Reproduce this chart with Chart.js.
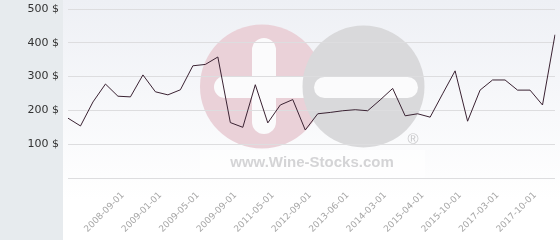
<!DOCTYPE html>
<html>
<head>
<meta charset="utf-8">
<script src="https://cdn.jsdelivr.net/npm/chart.js@4/dist/chart.umd.min.js"></script>
<style>
  html, body { margin: 0; padding: 0; background: #fff; }
  canvas { display: block; }
</style>
</head>
<body>
<canvas id="priceChart" width="560" height="240"></canvas>
<script>
  // dates on the category axis (only some are shown as tick labels)
  const dates = [
    "2008-05-01", "2008-06-01", "2008-07-01", "2008-08-01", "2008-09-01",
    "2008-10-01", "2008-12-01", "2009-01-01", "2009-02-01", "2009-04-01",
    "2009-05-01", "2009-06-01", "2009-07-01", "2009-09-01", "2010-01-01",
    "2010-09-01", "2011-05-01", "2011-09-01", "2012-03-01", "2012-09-01",
    "2012-12-01", "2013-03-01", "2013-06-01", "2013-09-01", "2013-12-01",
    "2014-03-01", "2014-07-01", "2014-11-01", "2015-04-01", "2015-06-01",
    "2015-08-01", "2015-10-01", "2016-04-01", "2016-09-01", "2017-03-01",
    "2017-05-01", "2017-08-01", "2017-10-01", "2017-12-01", "2018-02-01"
  ];

  // price in $
  const prices = [
    177, 154, 225, 278, 242, 240, 305, 255, 246, 261,
    332, 336, 358, 164, 150, 276, 163, 216, 232, 142,
    190, 194, 199, 202, 199, 231, 265, 184, 190, 180,
    249, 317, 168, 260, 290, 290, 260, 260, 216, 424
  ];

  const yMin = 0;
  const yMax = 500;
  const yStep = 100;

  const roundBar = (ctx, x1, y1, x2, y2) => {
    const r = Math.min(x2 - x1, y2 - y1) / 2;
    ctx.beginPath();
    ctx.roundRect(x1, y1, x2 - x1, y2 - y1, r);
    ctx.fill();
  };

  // background panels + watermark logo, drawn under the grid
  const backdrop = {
    id: 'backdrop',
    beforeDraw(chart) {
      const ctx = chart.ctx;
      const w = chart.width, h = chart.height;
      ctx.save();
      const grad = ctx.createLinearGradient(0, 0, 0, 200);
      grad.addColorStop(0, '#eef0f5');
      grad.addColorStop(1, '#ffffff');
      ctx.fillStyle = grad;
      ctx.fillRect(63, 0, w - 63, h);
      ctx.fillStyle = '#e7ebee';
      ctx.fillRect(0, 0, 63, h);

      // text box
      ctx.fillStyle = 'rgba(255,255,255,0.6)';
      ctx.fillRect(200, 150, 225, 28);

      // pink circle with plus
      ctx.fillStyle = '#ead1d8';
      ctx.beginPath();
      ctx.arc(262, 86.5, 62, 0, Math.PI * 2);
      ctx.fill();
      ctx.fillStyle = '#fbfbfc';
      roundBar(ctx, 252, 38, 276, 134);
      roundBar(ctx, 214, 76, 314, 98);

      // gray circle with minus
      ctx.fillStyle = '#d9d9db';
      ctx.beginPath();
      ctx.arc(363.5, 86.5, 61, 0, Math.PI * 2);
      ctx.fill();
      ctx.fillStyle = '#fbfbfc';
      roundBar(ctx, 314, 77, 418, 98);

      ctx.fillStyle = '#d4d4d6';
      ctx.font = 'bold 15px "Liberation Sans", Arial, sans-serif';
      ctx.textAlign = 'center';
      ctx.textBaseline = 'alphabetic';
      ctx.fillText('www.Wine-Stocks.com', 312, 167);
      ctx.fillStyle = '#c9c9cb';
      ctx.font = '15px "Liberation Sans", Arial, sans-serif';
      ctx.fillText('\u00AE', 413, 144);
      ctx.restore();
    }
  };

  new Chart(document.getElementById('priceChart').getContext('2d'), {
    type: 'line',
    data: {
      labels: dates,
      datasets: [{
        data: prices,
        borderColor: '#3a2232',
        borderWidth: 1,
        pointRadius: 0,
        tension: 0,
        fill: false
      }]
    },
    options: {
      responsive: false,
      animation: false,
      layout: { padding: { top: 9, right: 5, left: 0, bottom: 0 } },
      plugins: {
        legend: { display: false },
        tooltip: { enabled: false }
      },
      scales: {
        x: {
          type: 'category',
          offset: false,
          grid: { display: false, drawTicks: false },
          border: { display: false },
          afterFit: s => { s.height = 62; s.paddingLeft = 0; s.paddingRight = 0; },
          ticks: {
            autoSkip: false,
            maxRotation: 45,
            minRotation: 45,
            padding: 12,
            labelOffset: 5,
            color: '#a6a6a6',
            font: { family: 'DejaVu Sans', size: 9 },
            callback: (v, i) => (i >= 4 && i % 3 === 1) ? dates[i] : ''
          }
        },
        y: {
          min: yMin,
          max: yMax,
          grid: { color: '#dddddf', drawTicks: false },
          border: { display: false },
          afterFit: s => { s.width = 68; s.paddingTop = 0; s.paddingBottom = 0; },
          ticks: {
            stepSize: yStep,
            padding: 9,
            color: '#333333',
            font: { family: 'DejaVu Sans', size: 11 },
            callback: v => v === 0 ? '' : v + ' $'
          }
        }
      }
    },
    plugins: [backdrop]
  });
</script>
</body>
</html>
